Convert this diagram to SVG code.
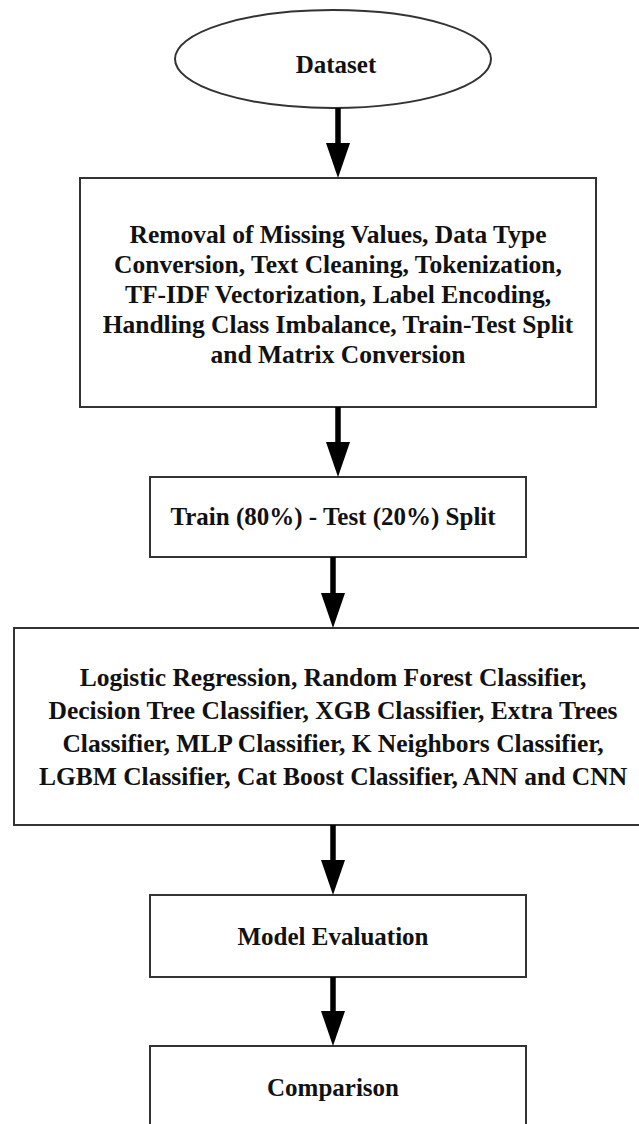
<svg xmlns="http://www.w3.org/2000/svg" width="639" height="1124" viewBox="0 0 639 1124">
<style>
.box{fill:#fff;stroke:#333;stroke-width:2}
.t{font-family:"Liberation Serif","Times New Roman",serif;font-weight:bold;font-size:25px;fill:#111;text-anchor:middle}
.t2{font-size:25.5px}
.c{stroke:#000;stroke-width:5.5;fill:none}
</style>
<defs>
<marker id="ah" markerUnits="userSpaceOnUse" markerWidth="36" markerHeight="26" refX="0" refY="12" orient="auto">
<path d="M0,0 L35,12 L0,24 Z" fill="#000"/>
</marker>
</defs>
<rect width="639" height="1124" fill="#fff"/>
<g id="dataset">
<ellipse class="box" cx="333" cy="59" rx="158" ry="49"/>
<text class="t" x="336" y="73">Dataset</text>
</g>
<g id="preprocessing">
<rect class="box" x="80" y="178" width="516" height="229"/>
<text class="t t2" x="338" y="243">Removal of Missing Values, Data Type</text>
<text class="t t2" x="338" y="273">Conversion, Text Cleaning, Tokenization,</text>
<text class="t t2" x="338" y="303">TF-IDF Vectorization, Label Encoding,</text>
<text class="t t2" x="338" y="333">Handling Class Imbalance, Train-Test Split</text>
<text class="t t2" x="338" y="363">and Matrix Conversion</text>
</g>
<g id="split">
<rect class="box" x="150" y="477" width="376" height="80"/>
<text class="t" x="333" y="525">Train (80%) - Test (20%) Split</text>
</g>
<g id="models">
<rect class="box" x="14" y="628" width="640" height="197"/>
<text class="t t2" x="333" y="686">Logistic Regression, Random Forest Classifier,</text>
<text class="t t2" x="333" y="719">Decision Tree Classifier, XGB Classifier, Extra Trees</text>
<text class="t t2" x="333" y="752">Classifier, MLP Classifier, K Neighbors Classifier,</text>
<text class="t t2" x="333" y="785">LGBM Classifier, Cat Boost Classifier, ANN and CNN</text>
</g>
<g id="evaluation">
<rect class="box" x="150" y="895" width="376" height="82"/>
<text class="t" x="333" y="945">Model Evaluation</text>
</g>
<g id="comparison">
<rect class="box" x="150" y="1046" width="376" height="82"/>
<text class="t" x="333" y="1096">Comparison</text>
</g>
<g id="connectors">
<line class="c" x1="338" y1="108" x2="338" y2="143" marker-end="url(#ah)"/>
<line class="c" x1="338" y1="407" x2="338" y2="442" marker-end="url(#ah)"/>
<line class="c" x1="333" y1="557" x2="333" y2="593" marker-end="url(#ah)"/>
<line class="c" x1="333" y1="825" x2="333" y2="860" marker-end="url(#ah)"/>
<line class="c" x1="333" y1="977" x2="333" y2="1011" marker-end="url(#ah)"/>
</g>
</svg>
